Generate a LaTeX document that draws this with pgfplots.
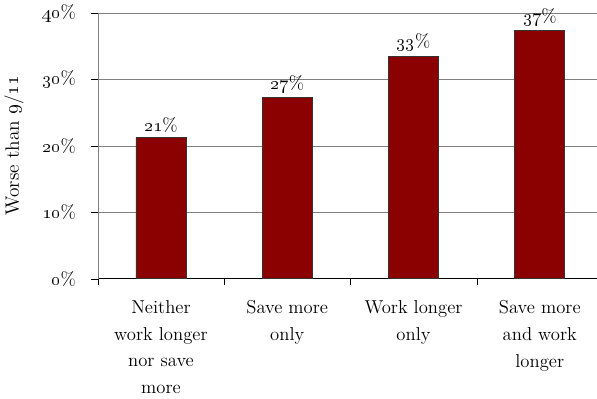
\RequirePackage{fix-cm}
\documentclass[border=0pt]{standalone}
\usepackage{pgfplots}
\pgfplotsset{compat=1.18}
\definecolor{barred}{HTML}{8B0000}
\definecolor{gridgray}{HTML}{808080}
\newcommand{\os}[1]{\oldstylenums{#1}}
\begin{document}
\begin{tikzpicture}
\begin{axis}[
    scale only axis, width=374pt, height=199pt,
    ymin=0, ymax=40, xmin=-0.5, xmax=3.45,
    ytick={0,10,20,30,40},
    yticklabels={\os{0}\%,\os{10}\%,\os{20}\%,\os{30}\%,\os{40}\%},
    xtick={0,1,2,3},
    xticklabels={Neither\\work longer\\nor save\\more, Save more\\only, Work longer\\only, Save more\\and work\\longer},
    major x tick style={draw=none},
    minor xtick={-0.5,0.5,1.5,2.5},
    minor tick length=5pt, major tick length=5pt,
    tick align=outside,
    axis x line*=bottom, axis y line*=left,
    x axis line style={black, -},
    y axis line style={gridgray, -},
    ytick style={black},
    minor x tick style={black},
    ymajorgrids, grid style={gridgray, line width=0.6pt},
    tick label style={font=\fontsize{14}{20}\selectfont},
    y tick label style={xshift=-8pt},
    x tick label style={align=center, yshift=-8pt},
    ylabel={Worse than \os{9}/\os{11}},
    ylabel style={font=\fontsize{14.5}{17}\selectfont, yshift=7pt},
    ybar, bar width=37.5pt,
    nodes near coords, point meta=explicit symbolic,
    nodes near coords style={font=\fontsize{14}{17}\selectfont, yshift=0pt},
    clip=false,
]
\addplot[fill=barred, draw=black!80, line width=0.5pt] coordinates {
    (0,21.3) [\os{21}\%]
    (1,27.3) [\os{27}\%]
    (2,33.5) [\os{33}\%]
    (3,37.4) [\os{37}\%]
};
\end{axis}
\end{tikzpicture}
\end{document}
